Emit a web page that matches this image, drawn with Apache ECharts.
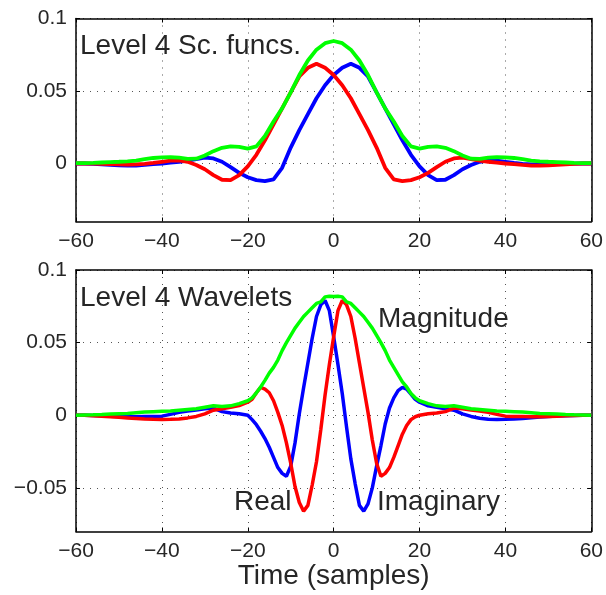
<!DOCTYPE html>
<html>
<head>
<meta charset="utf-8">
<script src="https://cdn.jsdelivr.net/npm/echarts@6/dist/echarts.min.js"></script>
<style>
html,body{margin:0;padding:0;background:#fff;}
#chart{width:606px;height:595px;}
</style>
</head>
<body>
<div id="chart"></div>
<script>
// ---------- DATA ----------
var xTicks = [-60, -40, -20, 0, 20, 40, 60];
var topYTicks = [0, 0.05, 0.1];
var bottomYTicks = [-0.05, 0, 0.05, 0.1];

// Top panel: Level 4 scaling functions (time in samples)
var topT = [-60,-58,-56,-54,-52,-50,-48,-46,-44,-42,-40,-38,-36,-34,-32,-30,-28,-26,-24,-22,-20,
            -18,-16,-14,-12,-10,-8,-6,-4,-2,0,2,4,6,8,10,12,14,16,18,
            20,22,24,26,28,30,32,34,36,38,40,42,44,46,48,50,52,54,56,58,60];
var topBlue = [0,0,-0.0003,-0.0006,-0.001,-0.0013,-0.0015,-0.0014,-0.001,-0.0005,0,
               0.0006,0.0012,0.002,0.003,0.004,0.0035,0.0012,-0.0025,-0.0065,-0.0095,
               -0.0115,-0.0122,-0.011,-0.003,0.011,0.023,0.034,0.045,0.054,0.061,
               0.066,0.0688,0.066,0.060,0.049,0.038,0.027,0.016,0.006,
               -0.002,-0.008,-0.0115,-0.0112,-0.008,-0.004,-0.001,0.0012,0.0022,0.002,
               0.0012,0.0004,-0.0002,-0.0006,-0.0007,-0.0006,-0.0004,-0.0002,-0.0001,0,0];
var topRed = [0,0,-0.0001,-0.0002,-0.0004,-0.0006,-0.0007,-0.0006,-0.0002,0.0004,0.0012,
              0.002,0.0022,0.0012,-0.001,-0.004,-0.008,-0.0112,-0.0115,-0.008,-0.002,
              0.006,0.016,0.027,0.038,0.049,0.060,0.066,0.0688,0.066,0.061,
              0.054,0.045,0.034,0.023,0.011,-0.003,-0.011,-0.0122,-0.0115,
              -0.0095,-0.0065,-0.0025,0.0012,0.0035,0.004,0.003,0.002,0.0012,0.0006,
              0,-0.0005,-0.001,-0.0014,-0.0015,-0.0013,-0.001,-0.0006,-0.0003,0,0];
var topMag = [0.0002,0.0003,0.0004,0.0007,0.001,0.0012,0.0015,0.002,0.003,0.0038,0.0042,
              0.0043,0.004,0.0032,0.0033,0.0055,0.0085,0.0108,0.0118,0.0115,0.0103,
              0.0118,0.019,0.029,0.038,0.049,0.061,0.071,0.0785,0.083,0.0845,
              0.083,0.0785,0.071,0.061,0.049,0.038,0.029,0.019,0.0118,
              0.0103,0.0115,0.0118,0.0108,0.0085,0.0055,0.0033,0.0032,0.004,0.0043,
              0.0042,0.0038,0.003,0.002,0.0015,0.0012,0.001,0.0007,0.0004,0.0003,0.0002];

// Bottom panel: Level 4 wavelets
var botT = [-60,-58,-56,-54,-52,-50,-48,-46,-44,-42,-40,-38,-36,-34,-32,-30,-28,-26,-24,-22,-20,
            -19,-18,-17,-16,-15,-14,-13,-12,-11,-10,-9,-8,-7,-6,-5,-4,-3,-2,-1,
            0,1,2,3,4,5,6,7,8,9,10,11,12,13,14,15,16,17,18,19,
            20,22,24,26,28,30,32,34,36,38,40,42,44,46,48,50,52,54,56,58,60];
var botBlue = [0,0,-0.0002,-0.0004,-0.0007,-0.0009,-0.001,-0.001,-0.0009,-0.0008,-0.0006,
               0.0006,0.002,0.003,0.0037,0.0045,0.005,0.0025,0.0015,0.001,0,
               -0.003,-0.0065,-0.011,-0.016,-0.022,-0.029,-0.036,-0.040,-0.042,-0.035,
               -0.019,0.001,0.019,0.036,0.053,0.068,0.076,0.079,0.072,
               0.054,0.035,0.015,-0.008,-0.03,-0.047,-0.062,-0.066,-0.061,-0.05,
               -0.035,-0.021,-0.006,0.005,0.012,0.017,0.0192,0.018,0.0146,0.011,
               0.009,0.0065,0.0055,0.0045,0.0035,0.001,-0.0008,-0.002,-0.0028,-0.0029,
               -0.0028,-0.0026,-0.0022,-0.0017,-0.0012,-0.0008,-0.0005,-0.0003,-0.0001,0,0];
var botRed = [0,0,-0.0003,-0.0006,-0.001,-0.0014,-0.0018,-0.0022,-0.0026,-0.0028,-0.0029,
              -0.0028,-0.0026,-0.0018,-0.0008,0.001,0.0035,0.0045,0.0055,0.0067,0.009,
              0.011,0.0155,0.0192,0.018,0.0155,0.010,0.002,-0.007,-0.019,-0.033,
              -0.049,-0.060,-0.066,-0.062,-0.048,-0.032,-0.010,0.014,0.035,
              0.054,0.072,0.079,0.076,0.068,0.053,0.036,0.019,0.002,-0.017,
              -0.033,-0.042,-0.040,-0.036,-0.029,-0.021,-0.013,-0.007,-0.003,-0.001,
              0,0.001,0.0015,0.0025,0.005,0.0045,0.0037,0.003,0.002,0.0006,
              -0.0006,-0.0008,-0.0009,-0.001,-0.001,-0.0009,-0.0007,-0.0004,-0.0002,0,0];
var botMag = [0,0.0002,0.0003,0.0005,0.0008,0.001,0.0012,0.0017,0.0022,0.0025,0.0028,
              0.003,0.0035,0.004,0.0045,0.0055,0.0065,0.006,0.0065,0.008,0.01,
              0.012,0.0155,0.0195,0.024,0.029,0.033,0.038,0.0445,0.05,0.055,
              0.06,0.064,0.068,0.071,0.074,0.077,0.078,0.0815,0.082,
              0.0818,0.082,0.0815,0.078,0.077,0.074,0.071,0.068,0.064,0.06,
              0.055,0.05,0.0445,0.038,0.033,0.028,0.023,0.0195,0.015,0.012,
              0.01,0.008,0.0065,0.006,0.0065,0.0055,0.0045,0.004,0.0035,0.003,
              0.0028,0.0025,0.0022,0.0017,0.0012,0.001,0.0008,0.0005,0.0003,0.0002,0];

var annotations = [
  {text: 'Level 4 Sc. funcs.', x: 80, y: 46},
  {text: 'Level 4 Wavelets', x: 80, y: 298},
  {text: 'Magnitude', x: 378, y: 319},
  {text: 'Real', x: 234, y: 502},
  {text: 'Imaginary', x: 377, y: 502}
];
var xTitle = 'Time (samples)';

// ---------- CHART ----------
function pairs(t, v) { return t.map(function (x, i) { return [x, v[i]]; }); }
function fmt(v) { return String(v).replace('-', '\u2212'); }

var FONT = '"Liberation Sans", Arial, Helvetica, sans-serif';
var txt = '#262626';
var gridDot = {show: true, lineStyle: {color: '#555', width: 1, type: [1, 6]}};

function xAx(gi, pos, opts) {
  var a = {
    type: 'value', gridIndex: gi, position: pos, min: -60, max: 60, interval: 20,
    axisLine: {show: true, onZero: false, lineStyle: {color: '#000', width: 1.5}},
    axisTick: {show: true, inside: true, length: 4, lineStyle: {color: '#000', width: 1}},
    axisLabel: {show: pos === 'bottom', fontSize: 21, color: txt, fontFamily: FONT, margin: 9, formatter: fmt},
    splitLine: pos === 'bottom' ? gridDot : {show: false}
  };
  for (var k in opts) a[k] = opts[k];
  return a;
}
function yAx(gi, pos, mn, mx, ticks) {
  return {
    type: 'value', gridIndex: gi, position: pos, min: mn, max: mx,
    axisLine: {show: true, onZero: false, lineStyle: {color: '#000', width: 1.5}},
    axisTick: {show: true, inside: true, length: 4, customValues: ticks, lineStyle: {color: '#000', width: 1}},
    axisLabel: {show: pos === 'left', customValues: ticks, fontSize: 21, color: txt, fontFamily: FONT, margin: 9, formatter: fmt},
    splitLine: pos === 'left' ? gridDot : {show: false}
  };
}
function line(name, xi, yi, data, color, w) {
  return {
    name: name, type: 'line', xAxisIndex: xi, yAxisIndex: yi, data: data,
    showSymbol: false, smooth: false, lineStyle: {color: color, width: w},
    itemStyle: {color: color}, silent: true
  };
}

var chart = echarts.init(document.getElementById('chart'), null, {renderer: 'canvas'});
chart.setOption({
  animation: false,
  backgroundColor: '#fff',
  grid: [
    {left: 76, right: 14, top: 18.5, height: 203},
    {left: 76, right: 14, top: 270, height: 261.5}
  ],
  xAxis: [
    xAx(0, 'bottom', {}),
    xAx(0, 'top', {}),
    xAx(1, 'bottom', {name: xTitle, nameLocation: 'middle', nameGap: 29,
      nameTextStyle: {fontSize: 28, color: txt, fontFamily: FONT}}),
    xAx(1, 'top', {})
  ],
  yAxis: [
    yAx(0, 'left', -0.04, 0.1, topYTicks),
    yAx(0, 'right', -0.04, 0.1, topYTicks),
    yAx(1, 'left', -0.08, 0.1, bottomYTicks),
    yAx(1, 'right', -0.08, 0.1, bottomYTicks)
  ],
  series: [
    line('Sc. real', 0, 0, pairs(topT, topBlue), '#0000ff', 3.8),
    line('Sc. imag', 0, 0, pairs(topT, topRed), '#ff0000', 3.8),
    line('Sc. magnitude', 0, 0, pairs(topT, topMag), '#00ff00', 3.8),
    line('Real', 2, 2, pairs(botT, botBlue), '#0000ff', 3.5),
    line('Imaginary', 2, 2, pairs(botT, botRed), '#ff0000', 3.5),
    line('Magnitude', 2, 2, pairs(botT, botMag), '#00ff00', 3.5)
  ],
  graphic: annotations.map(function (a) {
    return {type: 'text', x: a.x, y: a.y, z: 100, silent: true,
      style: {text: a.text, font: '28px ' + FONT, fill: txt, verticalAlign: 'middle', align: 'left'}};
  })
});
</script>
</body>
</html>
